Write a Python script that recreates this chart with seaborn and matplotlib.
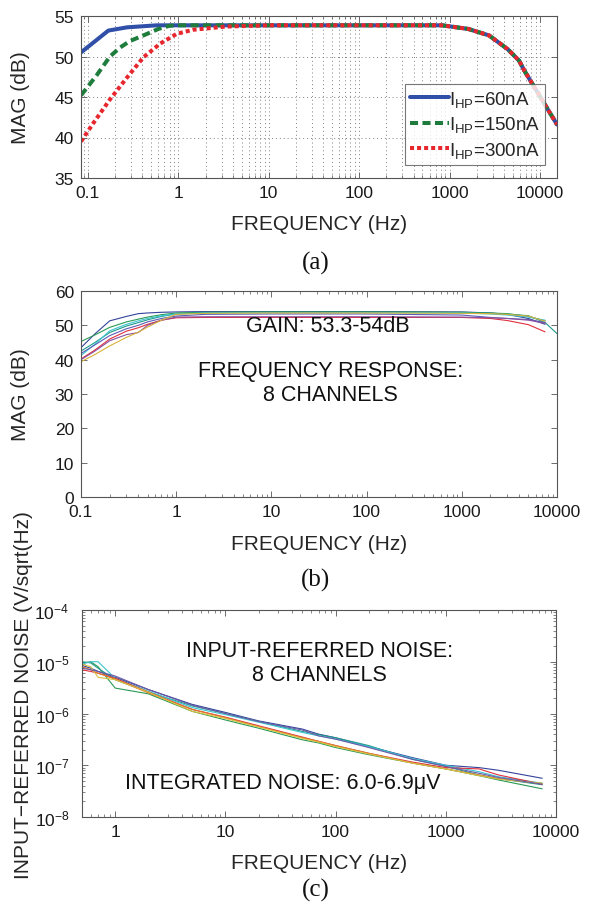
import numpy as np
import pandas as pd
import matplotlib
matplotlib.use("Agg")
import matplotlib.pyplot as plt
import matplotlib.ticker as mticker
import seaborn as sns

# ---------------- data ----------------
# panel (a): high-pass current sweep
freq_a_60 = [0.0837, 0.168, 0.27, 0.575, 1, 10, 100, 825, 1610, 2730, 4390, 5850, 6750, 15400]
mag_a_60 = [50.5, 53.2, 53.6, 53.85, 53.85, 53.85, 53.85, 53.85, 53.4, 52.6, 50.9, 49.5, 48.2, 41.6]
freq_a_150 = [0.0837, 0.125, 0.175, 0.226, 0.29, 0.43, 0.6, 0.8, 1, 10, 100, 825, 1610, 2730, 4390, 5850, 6750, 15400]
mag_a_150 = [45.2, 47.7, 50.0, 51.1, 51.9, 52.7, 53.4, 53.8, 53.85, 53.85, 53.85, 53.85, 53.4, 52.6, 50.9, 49.5, 48.2, 41.6]
freq_a_300 = [0.0837, 0.115, 0.175, 0.27, 0.41, 0.63, 0.96, 1.45, 3.4, 10, 100, 825, 1610, 2730, 4390, 5850, 6750, 15400]
mag_a_300 = [39.5, 41.8, 44.7, 47.4, 49.9, 51.6, 52.8, 53.3, 53.7, 53.85, 53.85, 53.85, 53.4, 52.6, 50.9, 49.5, 48.2, 41.6]
labels_a = ["I$_{\\mathregular{HP}}$=60nA", "I$_{\\mathregular{HP}}$=150nA", "I$_{\\mathregular{HP}}$=300nA"]
colors_a = ["#2f4fa8", "#1e7d3c", "#e8262e"]

# panel (b): 8-channel frequency response
freq_b = [0.1, 0.14, 0.2, 0.3, 0.4, 0.5, 0.7, 1, 2, 10, 100, 1000, 2000, 3000, 5000, 7500, 10000]
mag_b_ch1 = [43.5, 47.5, 51.3, 52.6, 53.4, 53.6, 53.8, 53.9, 54.0, 54.0, 54.0, 53.9, 53.6, 53.2, 52.0, 50.3, np.nan]
mag_b_ch2 = [45.3, 47.2, 49.4, 51.0, 51.8, 52.4, 53.1, 53.6, 53.8, 53.9, 53.9, 53.8, 53.6, 53.4, 52.6, 51.3, np.nan]
mag_b_ch3 = [42.5, 45.0, 47.9, 49.8, 50.8, 51.6, 52.6, 53.3, 53.7, 53.8, 53.8, 53.7, 53.5, 53.3, 52.8, 50.8, 47.6]
mag_b_ch4 = [41.2, 44.5, 48.4, 50.3, 51.3, 52.0, 52.8, 53.3, 53.6, 53.7, 53.7, 53.6, 53.3, 53.0, 52.4, 51.5, np.nan]
mag_b_ch5 = [41.8, 44.3, 47.0, 49.0, 50.0, 51.0, 52.0, 52.7, 53.2, 53.3, 53.3, 53.0, 52.3, 52.0, 51.7, 50.8, np.nan]
mag_b_ch6 = [40.2, 42.8, 46.0, 48.3, 49.3, 50.3, 51.5, 52.2, 52.3, 52.3, 52.3, 52.3, 52.0, 51.4, 50.2, 48.1, np.nan]
mag_b_ch7 = [40.0, 42.5, 45.5, 47.3, 47.9, 50.0, 51.5, 52.4, 52.5, 52.5, 52.5, 52.4, 52.2, 52.0, 51.5, 50.6, np.nan]
mag_b_ch8 = [39.4, 41.5, 44.0, 46.5, 48.0, 49.5, 51.5, 53.2, 53.5, 53.6, 53.6, 53.5, 53.4, 53.2, 52.7, 51.2, np.nan]

# panel (c): 8-channel input-referred noise
freq_c = [0.5, 0.6, 0.7, 1, 2, 5, 10, 20, 50, 70, 100, 200, 500, 1000, 2000, 3000, 7500]
noise_c_ch1 = [8.5e-6, 7.5e-6, 6.5e-6, 5.0e-6, 2.9e-6, 1.5e-6, 1.05e-6, 7.2e-7, 5.0e-7, 4.0e-7, 3.4e-7, 2.3e-7, 1.4e-7, 1.0e-7, 9.0e-8, 8.0e-8, 5.6e-8]
noise_c_ch2 = [9.5e-6, 1.0e-5, 8.0e-6, 3.1e-6, 2.4e-6, 1.1e-6, 7.5e-7, 5.2e-7, 3.1e-7, 2.7e-7, 2.2e-7, 1.6e-7, 1.1e-7, 8.5e-8, 6.3e-8, 5.2e-8, 3.5e-8]
noise_c_ch3 = [1.0e-5, 9.5e-6, 7.5e-6, 4.5e-6, 2.6e-6, 1.4e-6, 1.0e-6, 7.0e-7, 4.5e-7, 3.9e-7, 3.4e-7, 2.4e-7, 1.3e-7, 9.5e-8, 6.5e-8, 5.5e-8, 4.2e-8]
noise_c_ch4 = [9.0e-6, 1.0e-5, 1.0e-5, 4.8e-6, 2.7e-6, 1.3e-6, 9.5e-7, 6.8e-7, 4.3e-7, 3.7e-7, 3.2e-7, 2.3e-7, 1.35e-7, 1.0e-7, 7.5e-8, 6.0e-8, 4.5e-8]
noise_c_ch5 = [7.0e-6, 6.5e-6, 6.0e-6, 4.8e-6, 2.6e-6, 1.2e-6, 8.5e-7, 5.8e-7, 3.5e-7, 2.9e-7, 2.4e-7, 1.7e-7, 1.15e-7, 9.0e-8, 8.5e-8, 6.5e-8, 4.3e-8]
noise_c_ch6 = [8.0e-6, 7.0e-6, 6.0e-6, 4.6e-6, 2.5e-6, 1.2e-6, 8.3e-7, 5.6e-7, 3.4e-7, 2.9e-7, 2.4e-7, 1.7e-7, 1.1e-7, 8.5e-8, 6.5e-8, 5.5e-8, 4.4e-8]
noise_c_ch7 = [9.0e-6, 8.0e-6, 5.0e-6, 4.5e-6, 2.6e-6, 1.1e-6, 8.0e-7, 5.5e-7, 3.3e-7, 2.8e-7, 2.3e-7, 1.65e-7, 1.1e-7, 8.5e-8, 6.3e-8, 5.4e-8, 4.5e-8]
noise_c_ch8 = [7.5e-6, 7.0e-6, 6.5e-6, 5.3e-6, 2.9e-6, 1.45e-6, 1.0e-6, 7.0e-7, 4.8e-7, 3.7e-7, 3.2e-7, 2.2e-7, 1.3e-7, 9.5e-8, 7.0e-8, 5.8e-8, 4.3e-8]

channel_names = ["CH1", "CH2", "CH3", "CH4", "CH5", "CH6", "CH7", "CH8"]
channel_colors = ["#34449c", "#2a9a55", "#1f9a8a", "#3cc4d0", "#5a5fb8", "#e0303c", "#8a4f9e", "#d8b238"]
noise_colors = ["#34449c", "#2a9a55", "#1f9a8a", "#3cc4d0", "#e0303c", "#e07a2a", "#d8c040", "#6a5aa8"]

decade_ticks = [0.1, 1, 10, 100, 1000, 10000]
decade_labels = ["0.1", "1", "10", "100", "1000", "10000"]

# ---------------- style ----------------
sns.set_theme(style="ticks")
plt.rcParams["font.family"] = ["Liberation Sans", "DejaVu Sans"]
plt.rcParams["mathtext.fontset"] = "custom"
plt.rcParams["mathtext.rm"] = "Liberation Sans"
plt.rcParams["mathtext.it"] = "Liberation Sans"
plt.rcParams["mathtext.default"] = "regular"
plt.rcParams["axes.edgecolor"] = "#555555"
plt.rcParams["axes.linewidth"] = 0.8
plt.rcParams["xtick.color"] = "#555555"
plt.rcParams["ytick.color"] = "#555555"
plt.rcParams["xtick.labelcolor"] = "#1a1a1a"
plt.rcParams["ytick.labelcolor"] = "#1a1a1a"

TICK_FS = 12.5
LABEL_FS = 15
TEXT_FS = 15.5

fig = plt.figure(figsize=(5.89, 9.12), dpi=100)
W, H = 589.0, 912.0


def add_ax(l, t, r, b):
    return fig.add_axes([l / W, 1 - b / H, (r - l) / W, (b - t) / H])


def style_ax(ax, ypad):
    ax.tick_params(which="both", direction="in", top=True, right=True,
                   labelsize=TICK_FS)
    ax.tick_params(which="major", length=4.5, width=0.6)
    ax.tick_params(which="minor", length=2.5, width=0.5)
    ax.tick_params(axis="y", pad=ypad)
    ax.tick_params(axis="x", pad=5)
    for s in ax.spines.values():
        s.set_visible(True)


# ---------------- panel (a) ----------------
ax1 = add_ax(81, 17, 557, 179)
df_a = pd.concat([
    pd.DataFrame({"f": freq_a_60, "mag": mag_a_60, "s": labels_a[0]}),
    pd.DataFrame({"f": freq_a_150, "mag": mag_a_150, "s": labels_a[1]}),
    pd.DataFrame({"f": freq_a_300, "mag": mag_a_300, "s": labels_a[2]}),
], ignore_index=True)
sns.lineplot(data=df_a, x="f", y="mag", hue="s", style="s",
             palette=dict(zip(labels_a, colors_a)),
             dashes={labels_a[0]: "", labels_a[1]: (2.0, 1.1), labels_a[2]: (1.0, 0.75)},
             linewidth=2.9, ax=ax1, legend=True, sort=True)
ax1.set_xscale("log")
ax1.set_xlim(0.0837, 15400)
ax1.set_ylim(35, 55)
ax1.set_yticks([35, 40, 45, 50, 55])
ax1.set_xticks(decade_ticks)
ax1.set_xticklabels(decade_labels)
ax1.xaxis.set_minor_locator(mticker.LogLocator(base=10, subs=np.arange(2, 10)))
ax1.xaxis.set_minor_formatter(mticker.NullFormatter())
ax1.grid(True, which="major", axis="both", linestyle=(0, (1, 3)), color="#808080", linewidth=0.7)
ax1.grid(True, which="minor", axis="x", linestyle=(0, (1, 3)), color="#808080", linewidth=0.7)
style_ax(ax1, 5)
ax1.set_xlabel("FREQUENCY (Hz)", fontsize=LABEL_FS)
ax1.set_ylabel("MAG (dB)", fontsize=LABEL_FS)
ax1.xaxis.label.set_va("center")
ax1.yaxis.label.set_va("center")
ax1.xaxis.set_label_coords(0.5, (179 - 225) / 162)
ax1.yaxis.set_label_coords((21 - 81) / 476, 0.5)
leg = ax1.legend(loc="upper left", bbox_to_anchor=((405 - 81) / 476, (179 - 85) / 162),
                 fontsize=13.5, frameon=True, fancybox=False, handlelength=2.1,
                 handletextpad=0.0, borderpad=0.25, labelspacing=0.3, borderaxespad=0)
leg.get_frame().set_edgecolor("#555555")
leg.get_frame().set_linewidth(0.8)
for line in leg.get_lines():
    line.set_linewidth(2.9)

# ---------------- panel (b) ----------------
ax2 = add_ax(81, 292, 557, 498)
mags_b = [mag_b_ch1, mag_b_ch2, mag_b_ch3, mag_b_ch4, mag_b_ch5, mag_b_ch6, mag_b_ch7, mag_b_ch8]
df_b = pd.concat([pd.DataFrame({"f": freq_b, "mag": m, "ch": n}) for m, n in zip(mags_b, channel_names)],
                 ignore_index=True)
sns.lineplot(data=df_b, x="f", y="mag", hue="ch", palette=dict(zip(channel_names, channel_colors)),
             linewidth=0.8, ax=ax2, legend=False)
ax2.set_xscale("log")
ax2.set_xlim(0.1, 10000)
ax2.set_ylim(0, 60)
ax2.set_yticks(range(0, 61, 10))
ax2.set_xticks(decade_ticks)
ax2.set_xticklabels(decade_labels)
ax2.xaxis.set_minor_locator(mticker.LogLocator(base=10, subs=np.arange(2, 10)))
ax2.xaxis.set_minor_formatter(mticker.NullFormatter())
style_ax(ax2, 5)
ax2.set_xlabel("FREQUENCY (Hz)", fontsize=LABEL_FS)
ax2.set_ylabel("MAG (dB)", fontsize=LABEL_FS)
ax2.xaxis.label.set_va("center")
ax2.yaxis.label.set_va("center")
ax2.xaxis.set_label_coords(0.5, (498 - 545) / 206)
ax2.yaxis.set_label_coords((21 - 81) / 476, 0.5)
ax2.text(0.519, 0.832, "GAIN: 53.3-54dB", transform=ax2.transAxes, ha="center", va="center",
         fontsize=TEXT_FS, color="#111111")
ax2.text(0.525, 0.555, "FREQUENCY RESPONSE:\n8 CHANNELS", transform=ax2.transAxes,
         ha="center", va="center", multialignment="center", fontsize=TEXT_FS,
         color="#111111", linespacing=1.2)

# ---------------- panel (c) ----------------
ax3 = add_ax(82, 611, 556, 818)
noises_c = [noise_c_ch1, noise_c_ch2, noise_c_ch3, noise_c_ch4, noise_c_ch5, noise_c_ch6, noise_c_ch7, noise_c_ch8]
df_c = pd.concat([pd.DataFrame({"f": freq_c, "n": v, "ch": n}) for v, n in zip(noises_c, channel_names)],
                 ignore_index=True)
sns.lineplot(data=df_c, x="f", y="n", hue="ch", palette=dict(zip(channel_names, noise_colors)),
             linewidth=0.8, ax=ax3, legend=False)
ax3.set_xscale("log")
ax3.set_yscale("log")
ax3.set_xlim(0.5, 10000)
ax3.set_ylim(1e-8, 1e-4)
ax3.set_xticks([1, 10, 100, 1000, 10000])
ax3.set_xticklabels(["1", "10", "100", "1000", "10000"])
ax3.xaxis.set_minor_locator(mticker.LogLocator(base=10, subs=np.arange(2, 10)))
ax3.xaxis.set_minor_formatter(mticker.NullFormatter())
ax3.yaxis.set_major_locator(mticker.LogLocator(base=10, numticks=10))
ax3.yaxis.set_major_formatter(mticker.FuncFormatter(lambda v, p: "$10^{%d}$" % int(round(np.log10(v)))))
ax3.yaxis.set_minor_locator(mticker.LogLocator(base=10, subs=np.arange(2, 10), numticks=20))
ax3.yaxis.set_minor_formatter(mticker.NullFormatter())
style_ax(ax3, 9)
ax3.set_xlabel("FREQUENCY (Hz)", fontsize=LABEL_FS)
ax3.set_ylabel("INPUT\u2212REFERRED NOISE (V/sqrt(Hz)", fontsize=LABEL_FS)
ax3.xaxis.label.set_va("center")
ax3.yaxis.label.set_va("center")
ax3.xaxis.set_label_coords(0.5, (818 - 864) / 207)
ax3.yaxis.set_label_coords((23.5 - 82) / 474, (818 - 695) / 207)
ax3.text(0.501, 0.745, "INPUT-REFERRED NOISE:\n8 CHANNELS", transform=ax3.transAxes,
         ha="center", va="center", multialignment="center", fontsize=TEXT_FS,
         color="#111111", linespacing=1.2)
ax3.text(0.424, 0.168, "INTEGRATED NOISE: 6.0-6.9\u03bcV", transform=ax3.transAxes,
         ha="center", va="center", fontsize=TEXT_FS, color="#111111")

# ---------------- captions ----------------
for lab, ypx in [("(a)", 263), ("(b)", 580), ("(c)", 890)]:
    fig.text(316 / W, 1 - ypx / H, lab, ha="center", va="center", fontsize=18,
             family=["Liberation Serif", "DejaVu Serif"], color="#111111")

fig.savefig("out.png", dpi=100)
